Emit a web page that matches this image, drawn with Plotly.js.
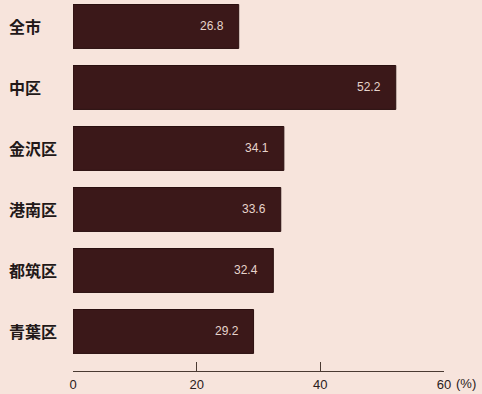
<!DOCTYPE html>
<html><head><meta charset="utf-8">
<script src="https://cdn.plot.ly/plotly-3.0.1.min.js"></script>
<style>html,body{margin:0;padding:0;background:#f7e4dc;}</style>
</head><body>
<div id="chart" style="width:482px;height:394px;"></div>
<script>
const categories = ["全市", "中区", "金沢区", "港南区", "都筑区", "青葉区"];
const values = [26.8, 52.2, 34.1, 33.6, 32.4, 29.2];
const tickVals = [0, 20, 40, 60];
const tickLabels = ["0", "20", "40", "60"];
const unitLabel = "(%)";

const trace = {
  type: "bar",
  orientation: "h",
  x: values,
  y: categories,
  width: 0.72,
  marker: {color: "#3b1819", line: {color: "#2a0f0f", width: 1}},
  hoverinfo: "none"
};

const annotations = values.map((v, i) => ({
  x: v, y: categories[i], xref: "x", yref: "y",
  text: v.toFixed(1), showarrow: false, xanchor: "right", xshift: -13,
  font: {family: "Liberation Sans, Arial, sans-serif", size: 12, color: "#e6d4cc"}
}));
categories.forEach((c, i) => annotations.push({
  x: 0, y: c, xref: "paper", yref: "y", xanchor: "left", xshift: -66,
  text: c, showarrow: false,
  font: {family: "Noto Sans CJK JP, sans-serif", size: 16, color: "#221818", weight: "bold"}
}));
annotations.push({
  x: 60, y: 0, xref: "x", yref: "paper", yanchor: "middle", xanchor: "left",
  yshift: -12, xshift: 10, text: unitLabel, showarrow: false,
  font: {family: "Liberation Sans, Arial, sans-serif", size: 13, color: "#2a2020"}
});

const layout = {
  width: 482, height: 394,
  margin: {l: 73, r: 38, t: 0, b: 23},
  paper_bgcolor: "#f7e4dc",
  plot_bgcolor: "rgba(0,0,0,0)",
  showlegend: false,
  xaxis: {
    range: [0, 60], tickvals: tickVals, ticktext: tickLabels,
    showgrid: false, zeroline: false, showline: true, linecolor: "#4a3a32", linewidth: 1,
    ticks: "inside", ticklen: 9, tickcolor: "#4a3a32", tickwidth: 1,
    ticklabelstandoff: 1,
    tickfont: {family: "Liberation Sans, Arial, sans-serif", size: 13, color: "#2a2020"},
    fixedrange: true
  },
  yaxis: {
    type: "category", range: [5.648, -0.434], autorange: false,
    showgrid: false, zeroline: false, showline: false, ticks: "",
    showticklabels: false,
    fixedrange: true
  },
  annotations: annotations
};

Plotly.newPlot("chart", [trace], layout, {displayModeBar: false, staticPlot: true});
</script>
</body></html>
